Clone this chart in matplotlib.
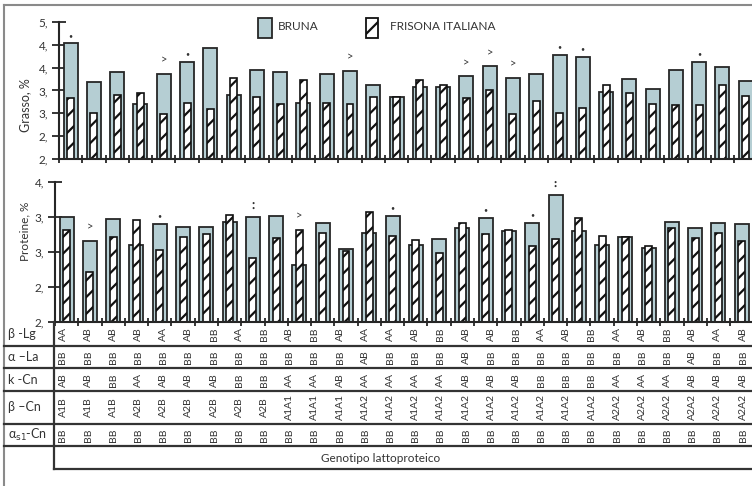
import matplotlib
matplotlib.use('Agg')
import matplotlib.pyplot as plt
import numpy as np
from matplotlib.patches import Rectangle

# fat (%) per genotype group
bruna_grasso = [4.53, 3.69, 3.90, 3.20, 3.87, 4.12, 4.44, 3.41, 3.95, 3.90,
                3.23, 3.87, 3.93, 3.63, 3.35, 3.58, 3.58, 3.81, 4.03, 3.78,
                3.87, 4.27, 4.24, 3.47, 3.75, 3.53, 3.95, 4.12, 4.01, 3.70]
frisona_grasso = [3.34, 3.00, 3.41, 3.44, 2.98, 3.23, 3.09, 3.78, 3.35, 3.21,
                  3.72, 3.23, 3.21, 3.35, 3.35, 3.72, 3.63, 3.33, 3.52, 2.98,
                  3.27, 3.01, 3.12, 3.63, 3.44, 3.21, 3.18, 3.18, 3.63, 3.38]
grasso_marks = ['*', '', '', '', '>', '*', '', '', '', '',
                '', '', '>', '', '', '', '', '>', '>', '>',
                '', '*', '*', '', '', '', '', '*', '', '']

# protein (%) per genotype group, lower panel
bruna_prot = [3.50, 3.16, 3.47, 3.10, 3.40, 3.36, 3.36, 3.43, 3.50, 3.51,
              2.82, 3.41, 3.04, 3.27, 3.51, 3.10, 3.19, 3.34, 3.49, 3.30,
              3.42, 3.81, 3.30, 3.10, 3.21, 3.06, 3.43, 3.34, 3.41, 3.40]
frisona_prot = [3.32, 2.72, 3.21, 3.46, 3.03, 3.21, 3.25, 3.53, 2.91, 3.20,
                3.32, 3.27, 3.01, 3.57, 3.23, 3.17, 2.99, 3.41, 3.25, 3.32,
                3.09, 3.19, 3.49, 3.23, 3.21, 3.09, 3.34, 3.20, 3.27, 3.16]
prot_marks = ['', '>', '', '', '*', '', '', '', '**', '',
              '>', '', '', '', '*', '', '', '', '*', '',
              '*', '**', '', '', '', '', '', '', '', '']

# genotype table
beta_lg = ['AA', 'AB', 'AB', 'AB', 'AA', 'AB', 'BB', 'AA', 'BB', 'AB', 'BB', 'AB', 'AA', 'AA',
           'AB', 'BB', 'AB', 'AB', 'BB', 'AA', 'AB', 'BB', 'AA', 'AB', 'BB', 'AB', 'AA', 'AB']
alpha_la = ['BB'] * 12 + ['AB'] + ['BB'] * 3 + ['AB'] + ['BB'] * 8 + ['AB'] + ['BB'] * 2
k_cn = ['AB', 'AB', 'BB', 'AA', 'AB', 'AB', 'AB', 'BB', 'BB', 'AA', 'AA', 'AB', 'AA', 'AA',
        'AA', 'AA', 'AB', 'AB', 'AB', 'BB', 'BB', 'BB', 'AA', 'AA', 'AA', 'AB', 'AB', 'AB']
beta_cn = ['A1B'] * 3 + ['A2B'] * 6 + ['A1A1'] * 3 + ['A1A2'] * 10 + ['A2A2'] * 6
as1_cn = ['BB'] * 28
row_labels = ['β -Lg', 'α –La', 'k -Cn', 'β –Cn', r'α$_{\mathrm{s1}}$-Cn']

plt.rcParams['font.family'] = ['Lato', 'DejaVu Sans']
plt.rcParams['hatch.linewidth'] = 1.6

BRUNA_C = '#b5ced3'
EDGE = '#262626'
TXT = '#333333'
W, H = 752, 486

fig = plt.figure(figsize=(W / 100, H / 100), dpi=100)


def panel(rect, bruna, frisona, marks, ylim, step):
    ax = fig.add_axes(rect)
    ax.set_facecolor('none')
    x = np.arange(len(bruna))
    ax.bar(x, bruna, width=0.6, color=BRUNA_C, edgecolor=EDGE, lw=1.3, zorder=2)
    ax.bar(x, frisona, width=0.3, color='white', edgecolor='#111111', lw=1.2,
           hatch='//', zorder=3)
    for i, m in enumerate(marks):
        if not m:
            continue
        top = max(bruna[i], frisona[i])
        if m == '>':
            ax.annotate('>', (i, top), xytext=(0, 10), textcoords='offset points',
                        ha='center', va='center', fontsize=8, color=TXT)
        elif m == '*':
            ax.annotate('•', (i, top), xytext=(0, 6), textcoords='offset points',
                        ha='center', va='center', fontsize=5, color=TXT)
        else:
            ax.annotate('•\n•', (i, top), xytext=(0, 8), textcoords='offset points',
                        ha='center', va='center', fontsize=4, linespacing=0.9,
                        color=TXT)
    for s in ['top', 'right']:
        ax.spines[s].set_visible(False)
    for s in ['left', 'bottom']:
        ax.spines[s].set_linewidth(1.5)
        ax.spines[s].set_color(EDGE)
        ax.spines[s].set_zorder(4)
    ax.set_ylim(*ylim)
    yt = np.arange(ylim[0], ylim[1] + 0.01, step)
    ax.set_yticks(yt)
    ax.set_yticklabels([f'{int(v)},' for v in yt])
    ax.tick_params(axis='y', direction='inout', length=10, width=1.3, pad=3,
                   labelsize=8.5, colors=EDGE, labelcolor=TXT)
    ax.set_xticks(np.arange(-0.5, len(bruna), 1))
    ax.set_xticklabels([])
    ax.tick_params(axis='x', direction='inout', length=6, width=1.3, colors=EDGE)
    return ax


slot = 23.28
ax1 = panel([59 / W, 1 - 159 / H, (W - 59) / W, 137 / H],
            bruna_grasso, frisona_grasso, grasso_marks, (2, 5), 0.5)
ax1.set_xlim(-0.5, -0.5 + (W - 59) / slot)
ax2 = panel([55 / W, 1 - 322 / H, (W - 55) / W, 140 / H],
            bruna_prot, frisona_prot, prot_marks, (2, 4), 0.5)
ax2.set_xlim(-0.5, -0.5 + (W - 55) / slot)

# overlay in pixel units for frame, legend, labels and genotype table
tab = fig.add_axes([0, 0, 1, 1])
tab.set_xlim(0, W)
tab.set_ylim(H, 0)
tab.axis('off')
tab.set_facecolor('none')

tab.plot([4, W], [5, 5], color='#8a8a8a', lw=1.5)
tab.plot([4, 4], [5, H], color='#8a8a8a', lw=1.5)

tab.add_patch(Rectangle((258, 18), 14, 20, fc=BRUNA_C, ec=EDGE, lw=1.3))
tab.text(278, 26, 'BRUNA', va='center', fontsize=8.5, color=TXT)
tab.add_patch(Rectangle((366, 18), 12, 20, fc='white', ec='#111111', lw=1.3, hatch='//'))
tab.text(390, 26, 'FRISONA ITALIANA', va='center', fontsize=8.5, color=TXT)

tab.text(25, 105, 'Grasso, %', rotation=90, ha='center', va='center', fontsize=9, color=TXT)
tab.text(25, 231, 'Proteine, %', rotation=90, ha='center', va='center', fontsize=8.5, color=TXT)

for y in [346, 368, 391, 424, 446]:
    tab.plot([4, W], [y, y], color='#333333', lw=1.6)
tab.plot([54, W], [469, 469], color='#333333', lw=1.6)
tab.plot([54, 54], [322, 469], color='#333333', lw=1.6)

row_y = [334, 357, 380, 407, 435]
for lab, yc, vals in zip(row_labels, row_y, [beta_lg, alpha_la, k_cn, beta_cn, as1_cn]):
    tab.text(8, yc, lab, va='center', fontsize=9, color=TXT)
    for i, v in enumerate(vals):
        tab.text(63 + 25.19 * i, yc, v, rotation=90, ha='center', va='center',
                 fontsize=7.5, color=TXT)

tab.text(381, 458, 'Genotipo lattoproteico', ha='center', va='center', fontsize=8.5, color=TXT)

fig.savefig('out.png', dpi=100)
